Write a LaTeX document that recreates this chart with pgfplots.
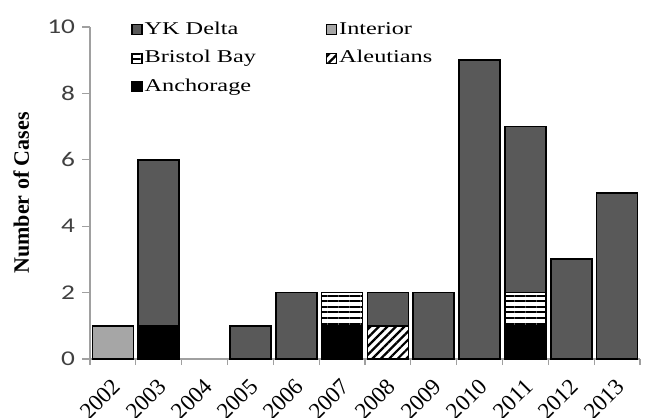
\documentclass[border=0pt]{standalone}
\usepackage{pgfplots}
\pgfplotsset{compat=1.18}
\usetikzlibrary{patterns.meta}
\usepackage{fontspec}
\setmainfont[FakeStretch=1.35]{Liberation Serif}
\newfontfamily\plainserif{Liberation Serif}
\newfontfamily\tickfont[FakeStretch=1.3]{Carlito}
\definecolor{ykc}{HTML}{595959}
\definecolor{intc}{HTML}{A6A6A6}
\definecolor{axc}{HTML}{A0A0A0}
\definecolor{tickc}{HTML}{404040}
\begin{document}
\begin{tikzpicture}
\useasboundingbox (-45pt,-29pt) rectangle (278pt,179.5pt);
\begin{axis}[
  at={(0,0)}, anchor=south west,
  scale only axis, width=275pt, height=166pt,
  clip=false,
  ymin=0, ymax=10, xmin=-0.5, xmax=11.5,
  axis x line*=bottom, axis y line*=left,
  axis line style={axc, line width=0.6pt, -},
  every outer x axis line/.append style={-},
  every outer y axis line/.append style={-},
  ytick={0,2,...,10},
  xtick={0,...,11},
  xticklabels={2002,2003,2004,2005,2006,2007,2008,2009,2010,2011,2012,2013},
  minor xtick={-0.5,0.5,...,11.5},
  major x tick style={draw=none},
  minor tick length=3pt,
  major tick length=4pt,
  tick style={axc, line width=0.6pt},
  tick align=outside,
  /pgf/number format/assume math mode=true,
  yticklabel style={font=\tickfont\fontsize{10.5}{12}\selectfont, text=tickc},
  xticklabel style={font=\plainserif\fontsize{11.5}{12}\selectfont, xshift=-1pt, yshift=-3.5pt, rotate=45, anchor=north east, inner sep=1pt},
  ylabel={Number of Cases},
  ylabel style={font=\plainserif\bfseries\fontsize{11}{12}\selectfont, at={(axis description cs:-0.125,0.5)}, anchor=center},
  legend columns=2,
  legend cell align=left,
  legend style={draw=none, fill=none, inner sep=0pt, at={(0,1)}, anchor=north west, xshift=20.5pt, yshift=3.5pt,
    font=\fontsize{9}{10}\selectfont,
    nodes={inner sep=1pt, text height=6pt, text depth=1.5pt},
    row sep=4.75pt,
    /tikz/every even column/.append style={column sep=34pt}},
  legend image code/.code={\draw[#1, line width=0.6pt] (0pt,-2.5pt) rectangle (5pt,2.5pt);},
]
\addplot[ybar, bar shift=0pt, bar width=20.5pt, draw=black, line width=0.9pt, fill=ykc]
  coordinates {(1,6) (3,1) (4,2) (6,2) (7,2) (8,9) (9,7) (10,3) (11,5)};
\addlegendentry{YK Delta}
\addplot[ybar, bar shift=0pt, bar width=20.5pt, draw=black, line width=0.9pt, fill=intc]
  coordinates {(0,1)};
\addlegendentry{Interior}
\addplot[ybar, bar shift=0pt, bar width=20.5pt, draw=black, line width=0.9pt, fill=white,
  postaction={pattern={Lines[angle=0,distance=2.75pt,line width=1pt]}}]
  coordinates {(5,2) (9,2)};
\addlegendentry{Bristol Bay}
\addplot[ybar, bar shift=0pt, bar width=20.5pt, draw=black, line width=0.9pt, fill=white,
  postaction={pattern={Lines[angle=45,distance=3pt,line width=1.1pt]}}]
  coordinates {(6,1)};
\addlegendentry{Aleutians}
\addplot[ybar, bar shift=0pt, bar width=20.5pt, draw=black, line width=0.9pt, fill=black]
  coordinates {(1,1) (5,1) (9,1)};
\addlegendentry{Anchorage}
\end{axis}
\end{tikzpicture}
\end{document}
